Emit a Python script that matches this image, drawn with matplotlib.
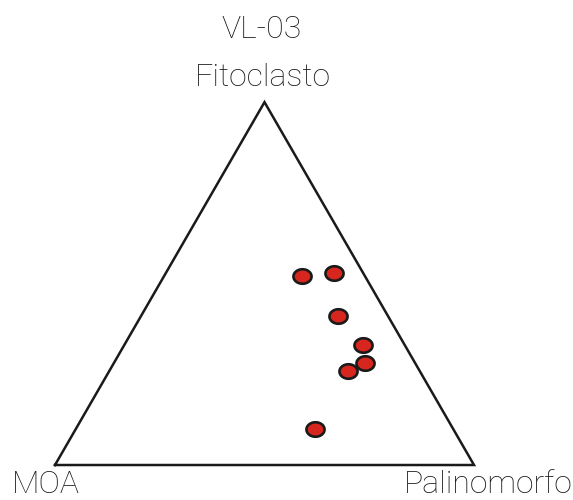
import numpy as np
import matplotlib.pyplot as plt
from matplotlib.path import Path

# ternary composition (%) of each sample
fitoclasto = [52, 53, 41, 33, 28, 26, 10]
palinomorfo = [33, 40, 47, 57, 60, 57, 57]
moa = [15, 7, 12, 10, 12, 17, 33]

title = "VL-03"
labels = ["MOA", "Palinomorfo", "Fitoclasto"]


def tern_xy(f, p, m):
    f, p, m = (np.asarray(v, float) for v in (f, p, m))
    tot = f + p + m
    y = f / tot * np.sqrt(3) / 2
    x = p / tot + y / np.sqrt(3)
    return x, y


plt.rcParams['font.family'] = ['Roboto', 'DejaVu Sans']

fig = plt.figure(figsize=(5.73, 5.0), dpi=100)
ax = fig.add_axes([0, 0, 1, 1])
ax.set_xlim(-0.1313, 1.2363)
ax.set_ylim(-0.0835, 1.1098)
ax.axis('off')

h = np.sqrt(3) / 2
ax.plot([0, 1, 0.5, 0], [0, 0, h, 0], color='#1a1a1a', lw=1.8,
        solid_joinstyle='miter', zorder=1)

# slightly flattened ellipse marker
t = np.linspace(0, 2 * np.pi, 60)
ell = Path(np.column_stack([np.cos(t), 0.8 * np.sin(t)]), closed=True)

x, y = tern_xy(fitoclasto, palinomorfo, moa)
ax.scatter(x, y, marker=ell, s=170, facecolor='#d7261e',
           edgecolor='#1a1a1a', linewidth=1.9, zorder=3)


def px(xp, yp):
    # figure pixel -> ternary plane coords
    return -0.1313 + xp / 419, 1.1098 - yp / 419


txt = dict(fontsize=23, fontweight='light', color='#1a1a1a',
           ha='center', va='bottom')
ax.text(*px(262, 44), title, **txt)
ax.text(*px(263, 92), labels[2], **txt)
ax.text(*px(46, 499), labels[0], **txt)
ax.text(*px(488, 499), labels[1], **txt)

fig.savefig('out.png', dpi=100)
